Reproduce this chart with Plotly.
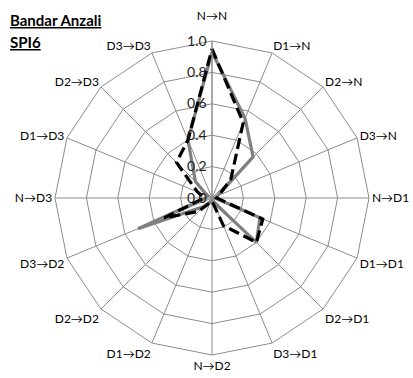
import plotly.graph_objects as go

categories = ["N→N", "D1→N", "D2→N", "D3→N", "N→D1", "D1→D1", "D2→D1", "D3→D1",
              "N→D2", "D1→D2", "D2→D2", "D3→D2", "N→D3", "D1→D3", "D2→D3", "D3→D3"]
series_gray = [0.93, 0.55, 0.37, 0.04, 0.02, 0.33, 0.40, 0.03,
               0.02, 0.03, 0.08, 0.51, 0.04, 0.03, 0.15, 0.40]
series_dash = [0.95, 0.52, 0.17, 0.05, 0.03, 0.35, 0.40, 0.19,
               0.02, 0.03, 0.12, 0.33, 0.05, 0.10, 0.32, 0.40]
radial_ticks = [0.0, 0.2, 0.4, 0.6, 0.8, 1.0]

ML, MR, MT, MB = 55, 44, 41, 23
W, H = 413, 378

# top label lifted above the radial tick label, as in the reference
angular_text = [c + "<br><span style='font-size:17px'>&nbsp;</span>" if i == 0 else c
                for i, c in enumerate(categories)]

fig = go.Figure()
fig.add_trace(go.Scatterpolar(
    r=series_gray + series_gray[:1], theta=categories + categories[:1],
    mode="lines", line=dict(color="#808080", width=3.2), showlegend=False))
fig.add_trace(go.Scatterpolar(
    r=series_dash + series_dash[:1], theta=categories + categories[:1],
    mode="lines", line=dict(color="#000000", width=3.2, dash="11px,5px"), showlegend=False))

fig.update_layout(
    width=W, height=H,
    margin=dict(l=ML, r=MR, t=MT, b=MB),
    paper_bgcolor="white",
    font=dict(family="Lato, 'DejaVu Sans', sans-serif", color="#000000"),
    polar=dict(
        bgcolor="white",
        gridshape="linear",
        angularaxis=dict(direction="clockwise", rotation=90,
                         tickmode="array", tickvals=categories, ticktext=angular_text,
                         linecolor="#8c8c8c", linewidth=1,
                         gridcolor="#8c8c8c", gridwidth=1,
                         showline=True, ticks="",
                         tickfont=dict(size=12, color="#000000")),
        radialaxis=dict(range=[0, 1], tickvals=radial_ticks,
                        ticktext=[f"{v:.1f}" for v in radial_ticks],
                        angle=90, side="counterclockwise", tickangle=90,
                        showline=True, linecolor="#8c8c8c", linewidth=1,
                        gridcolor="#8c8c8c", gridwidth=1, ticks="",
                        tickfont=dict(size=14, color="#222222")),
    ),
    annotations=[
        dict(text="<b><u>Bandar Anzali</u></b>", x=(8 - ML) / (W - ML - MR),
             y=(H - 20 - MB) / (H - MT - MB), xref="paper", yref="paper",
             showarrow=False, xanchor="left", yanchor="middle", font=dict(size=15)),
        dict(text="<b><u>SPI6</u></b>", x=(8 - ML) / (W - ML - MR),
             y=(H - 42 - MB) / (H - MT - MB), xref="paper", yref="paper",
             showarrow=False, xanchor="left", yanchor="middle", font=dict(size=15)),
    ],
)

fig.write_html("out.html")
